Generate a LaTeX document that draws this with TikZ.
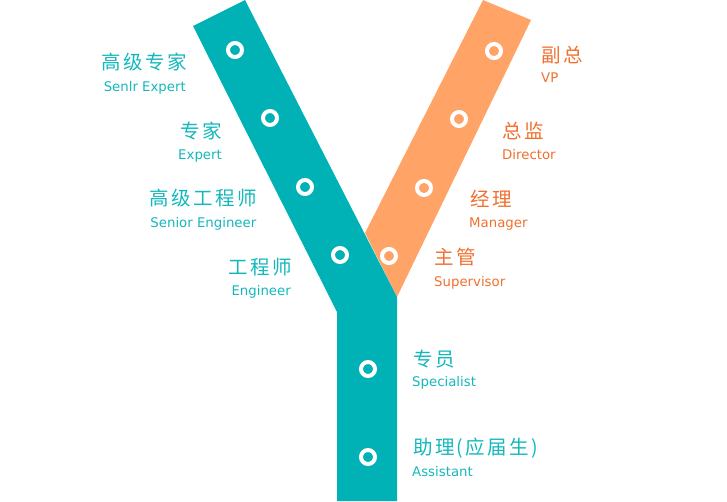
\documentclass[tikz,border=0pt]{standalone}
\usepackage{fontspec}
\newfontfamily\cjk[LetterSpace=12]{Noto Sans CJK SC}
\newfontfamily\lat{DejaVu Sans}
\definecolor{teal1}{RGB}{0,178,181}
\definecolor{org1}{RGB}{255,163,102}
\definecolor{tealtxt}{RGB}{20,184,188}
\definecolor{orgtxt}{RGB}{240,112,46}
\begin{document}
\begin{tikzpicture}[x=1pt,y=-1pt,
  zh/.style={inner sep=0pt,font=\cjk\fontsize{19.5}{19.5}\selectfont},
  en/.style={inner sep=0pt,font=\lat\fontsize{13.3}{14}\selectfont},
  L/.style={anchor=east,text=tealtxt},
  LB/.style={anchor=base east,text=tealtxt},
  R/.style={anchor=west,text=orgtxt},
  RB/.style={anchor=base west,text=orgtxt},
  RT/.style={anchor=west,text=tealtxt},
  RTB/.style={anchor=base west,text=tealtxt},
  ring/.style={draw=white,line width=4pt,circle,minimum size=14pt,inner sep=0pt}]
\useasboundingbox (0,0) rectangle (727,501);
% bands
\fill[org1] (483,0) -- (531,20) -- (397,297) -- (365,233) -- cycle;
\fill[teal1] (193,26) -- (245,0) -- (397,297) -- (397,501) -- (337,501) -- (337,312) -- cycle;
% rings
\node[ring] (t1) at (235,50) {};
\node[ring] (t2) at (270,118) {};
\node[ring] (t3) at (305,187) {};
\node[ring] (t4) at (340,255) {};
\node[ring] (t5) at (368,369) {};
\node[ring] (t6) at (368,457) {};
\node[ring] (o1) at (494,51) {};
\node[ring] (o2) at (459,119) {};
\node[ring] (o3) at (424,188) {};
\node[ring] (o4) at (389,256) {};
% left labels
\node[zh,L] (a1) at (187,62) {高级专家};
\node[en,LB] (b1) at (186,91.7) {Senlr Expert};
\node[zh,L] (a2) at (222,131) {专家};
\node[en,LB] (b2) at (222,159.5) {Expert};
\node[zh,L] (a3) at (257,198.5) {高级工程师};
\node[en,LB] (b3) at (256.5,227.7) {Senior Engineer};
\node[zh,L] (a4) at (292,267.5) {工程师};
\node[en,LB] (b4) at (291,295.3) {Engineer};
% right labels
\node[zh,R] (c1) at (541,55) {副总};
\node[en,RB] (d1) at (541,82.5) {VP};
\node[zh,R] (c2) at (502,131) {总监};
\node[en,RB] (d2) at (502,159.5) {Director};
\node[zh,R] (c3) at (470,199) {经理};
\node[en,RB] (d3) at (469,227.7) {Manager};
\node[zh,R] (c4) at (434,257) {主管};
\node[en,RB] (d4) at (434,286) {Supervisor};
\node[zh,RT] (c5) at (413,358.7) {专员};
\node[en,RTB] (d5) at (412,386.7) {Specialist};
\node[zh,RT] (c6) at (413,448) {助理(应届生)};
\node[en,RTB] (d6) at (412,476) {Assistant};
\end{tikzpicture}
\end{document}
